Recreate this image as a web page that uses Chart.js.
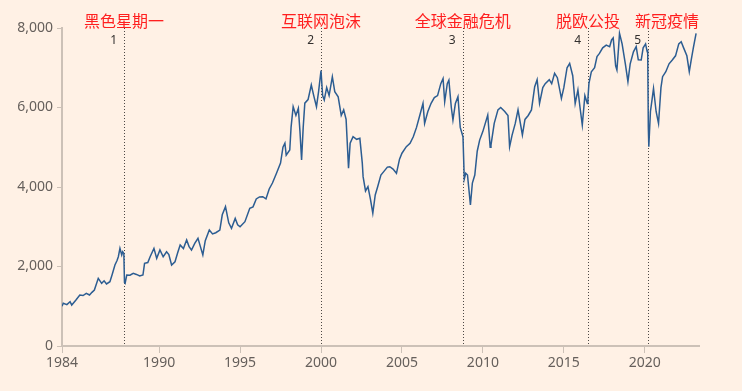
<!DOCTYPE html>
<html>
<head>
<meta charset="utf-8">
<script src="https://cdn.jsdelivr.net/npm/chart.js@4.4.0/dist/chart.umd.min.js"></script>
<style>
  html, body { margin: 0; padding: 0; background: #fff1e5; }
  #wrap { width: 742px; height: 391px; }
</style>
</head>
<body>
<div id="wrap"><canvas id="c" width="742" height="391"></canvas></div>
<script>
// FTSE 100 style index (decimal year -> level)
const years = [
  1984.0, 1984.08, 1984.3, 1984.5, 1984.6, 1984.85, 1985.1, 1985.3, 1985.5, 1985.7, 1985.85,
  1986.0, 1986.24, 1986.45, 1986.6, 1986.75, 1986.96, 1987.1, 1987.27, 1987.4, 1987.48, 1987.58,
  1987.69, 1987.75, 1987.82, 1987.86, 1987.9, 1988.0, 1988.2, 1988.4, 1988.6, 1988.8, 1989.0,
  1989.1, 1989.3, 1989.45, 1989.68, 1989.85, 1990.05, 1990.25, 1990.46, 1990.6, 1990.77, 1990.98,
  1991.15, 1991.3, 1991.5, 1991.7, 1991.85, 1992.0, 1992.2, 1992.4, 1992.55, 1992.7, 1992.85,
  1993.1, 1993.3, 1993.5, 1993.75, 1993.9, 1994.1, 1994.3, 1994.47, 1994.7, 1994.85, 1995.0,
  1995.3, 1995.6, 1995.8, 1996.0, 1996.2, 1996.4, 1996.6, 1996.8, 1997.0, 1997.25, 1997.5,
  1997.65, 1997.77, 1997.85, 1998.07, 1998.15, 1998.28, 1998.45, 1998.6, 1998.7, 1998.8, 1998.9,
  1999.0, 1999.2, 1999.4, 1999.55, 1999.72, 1999.85, 2000.0, 2000.1, 2000.2, 2000.35, 2000.5,
  2000.7, 2000.85, 2001.06, 2001.25, 2001.4, 2001.55, 2001.7, 2001.8, 2001.98, 2002.2, 2002.4,
  2002.55, 2002.6, 2002.75, 2002.9, 2003.05, 2003.2, 2003.35, 2003.5, 2003.7, 2003.9, 2004.1,
  2004.25, 2004.45, 2004.66, 2004.85, 2005.0, 2005.27, 2005.5, 2005.7, 2005.9, 2006.1, 2006.3,
  2006.4, 2006.6, 2006.8, 2007.0, 2007.2, 2007.4, 2007.54, 2007.64, 2007.8, 2007.9, 2008.05,
  2008.15, 2008.3, 2008.46, 2008.6, 2008.77, 2008.85, 2008.94, 2009.05, 2009.23, 2009.35, 2009.5,
  2009.65, 2009.8, 2010.0, 2010.3, 2010.45, 2010.5, 2010.7, 2010.93, 2011.1, 2011.35, 2011.55,
  2011.65, 2011.8, 2012.0, 2012.17, 2012.44, 2012.6, 2012.8, 2013.0, 2013.2, 2013.35, 2013.5,
  2013.7, 2013.85, 2014.1, 2014.25, 2014.43, 2014.6, 2014.85, 2015.0, 2015.2, 2015.36, 2015.55,
  2015.7, 2015.87, 2016.0, 2016.14, 2016.3, 2016.45, 2016.49, 2016.55, 2016.7, 2016.9, 2017.05,
  2017.2, 2017.4, 2017.62, 2017.83, 2017.95, 2018.05, 2018.2, 2018.28, 2018.38, 2018.44, 2018.6,
  2018.8, 2018.96, 2019.1, 2019.3, 2019.47, 2019.6, 2019.78, 2019.9, 2020.05, 2020.15, 2020.18,
  2020.22, 2020.25, 2020.35, 2020.45, 2020.54, 2020.7, 2020.85, 2021.0, 2021.1, 2021.3, 2021.5,
  2021.7, 2021.9, 2022.1, 2022.25, 2022.4, 2022.6, 2022.75, 2022.87, 2023.0, 2023.17
];
const values = [
  1000, 1074, 1040, 1114, 1030, 1150, 1283, 1270, 1325, 1283, 1350,
  1409, 1703, 1577, 1640, 1560, 1618, 1800, 2038, 2150, 2246, 2457,
  2290, 2372, 2330, 1600, 1580, 1786, 1780, 1830, 1800, 1760, 1786,
  2080, 2100, 2250, 2457, 2205, 2415, 2245, 2370, 2300, 2038, 2120,
  2350, 2540, 2450, 2667, 2500, 2415, 2580, 2710, 2500, 2290, 2650,
  2918, 2820, 2850, 2918, 3300, 3505, 3100, 2960, 3210, 3050, 3000,
  3128, 3465, 3500, 3700, 3750, 3756, 3700, 3950, 4100, 4344, 4600,
  5000, 5100, 4800, 4930, 5500, 6020, 5800, 5980, 5400, 4680, 5500,
  6110, 6200, 6566, 6300, 6020, 6400, 6930, 6300, 6190, 6500, 6300,
  6775, 6400, 6270, 5800, 5940, 5700, 4470, 5100, 5265, 5200, 5225,
  4600, 4260, 3900, 4008, 3700, 3340, 3800, 4008, 4300, 4400, 4500,
  4510, 4450, 4345, 4700, 4850, 5014, 5100, 5265, 5500, 5800, 6105,
  5600, 5900, 6105, 6250, 6300, 6600, 6730, 6145, 6600, 6690, 6000,
  5685, 6100, 6270, 5500, 5265, 4200, 4345, 4300, 3547, 4100, 4300,
  4900, 5180, 5400, 5810, 5000, 5055, 5600, 5940, 6000, 5900, 5800,
  5014, 5300, 5600, 5940, 5310, 5700, 5800, 5940, 6523, 6700, 6105,
  6500, 6600, 6700, 6600, 6860, 6750, 6230, 6500, 7000, 7110, 6800,
  6100, 6440, 6000, 5560, 6300, 6100, 6230, 6600, 6900, 7000, 7280,
  7360, 7500, 7570, 7530, 7700, 7750, 7050, 6945, 7500, 7865, 7600,
  7100, 6650, 7100, 7400, 7530, 7200, 7195, 7500, 7600, 7400, 7450,
  5500, 5014, 5900, 6200, 6480, 5900, 5600, 6500, 6775, 6900, 7100,
  7195, 7300, 7600, 7655, 7500, 7300, 6900, 7200, 7500, 7865
];

const xTicks = [1984, 1990, 1995, 2000, 2005, 2010, 2015, 2020];
const yTicks = [0, 2000, 4000, 6000, 8000];

// market events marked with dotted lines
const eventYears = [1987.83, 2000.0, 2008.75, 2016.5, 2020.2];
const eventNumbers = ["1", "2", "3", "4", "5"];
const eventLabels = ["黑色星期一", "互联网泡沫", "全球金融危机", "脱欧公投", "新冠疫情"];

const axisColor = "#ccc1b7";
const textColor = "#66605c";

const points = years.map(function(y, i){ return {x: y, y: values[i]}; });

const eventsPlugin = {
    id: "events",
    beforeDatasetsDraw: function(chart){
        const ctx = chart.ctx;
        const xs = chart.scales.x;
        const area = chart.chartArea;
        ctx.save();
        ctx.strokeStyle = "#4d4845";
        ctx.lineWidth = 1;
        ctx.setLineDash([1, 2]);
        eventYears.forEach(function(yr){
            const px = Math.round(xs.getPixelForValue(yr)) + 0.5;
            ctx.beginPath();
            ctx.moveTo(px, area.top);
            ctx.lineTo(px, area.bottom);
            ctx.stroke();
        });
        ctx.restore();
    },
    afterDraw: function(chart){
        const ctx = chart.ctx;
        const xs = chart.scales.x;
        const area = chart.chartArea;
        let lastRight = -Infinity;
        ctx.save();
        eventYears.forEach(function(yr, i){
            const px = xs.getPixelForValue(yr);
            ctx.font = "16px 'Noto Sans CJK SC', sans-serif";
            ctx.fillStyle = "#ff1f1f";
            ctx.textBaseline = "middle";
            ctx.textAlign = "left";
            const w = ctx.measureText(eventLabels[i]).width;
            // centre on the line, but push right if it would hit the previous label
            let left = px - w / 2;
            if (left < lastRight + 16) left = lastRight + 16;
            if (left + w > area.right) left = area.right - w;
            ctx.fillText(eventLabels[i], left, 21);
            lastRight = left + w;
            ctx.font = "12px 'Noto Sans'";
            ctx.fillStyle = "#33302e";
            ctx.textAlign = "right";
            ctx.fillText(eventNumbers[i], px - 7, 41);
        });
        ctx.restore();
    }
};

const chart = new Chart(document.getElementById("c"), {
    type: "line",
    data: {
        datasets: [{
            data: points,
            borderColor: "#2c5d92",
            borderWidth: 1.5,
            pointRadius: 0,
            tension: 0
        }]
    },
    options: {
        responsive: false,
        animation: false,
        devicePixelRatio: 1,
        layout: {
            padding: {top: 28, right: 43, left: 0, bottom: 0}
        },
        plugins: {
            legend: {display: false},
            tooltip: {enabled: false}
        },
        scales: {
            x: {
                type: "linear",
                min: 1984,
                max: 2023.35,
                afterBuildTicks: function(scale){
                    scale.ticks = xTicks.map(function(v){ return {value: v}; });
                },
                afterFit: function(scale){ scale.height = 45; },
                border: {color: axisColor, width: 2},
                grid: {drawOnChartArea: false, color: axisColor, tickLength: 7, tickWidth: 1},
                ticks: {
                    color: textColor,
                    font: {family: "'Noto Sans'", size: 14},
                    padding: 2,
                    maxRotation: 0,
                    autoSkip: false,
                    callback: function(v){ return String(v); }
                }
            },
            y: {
                min: 0,
                max: 8000,
                afterBuildTicks: function(scale){
                    scale.ticks = yTicks.map(function(v){ return {value: v}; });
                },
                afterFit: function(scale){ scale.width = 62; },
                border: {color: axisColor, width: 2},
                grid: {drawOnChartArea: false, color: axisColor, tickLength: 5, tickWidth: 1},
                ticks: {
                    color: textColor,
                    font: {family: "'Noto Sans'", size: 14},
                    padding: 4,
                    callback: function(v){ return v.toLocaleString("en-US"); }
                }
            }
        }
    },
    plugins: [eventsPlugin]
});
</script>
</body>
</html>
